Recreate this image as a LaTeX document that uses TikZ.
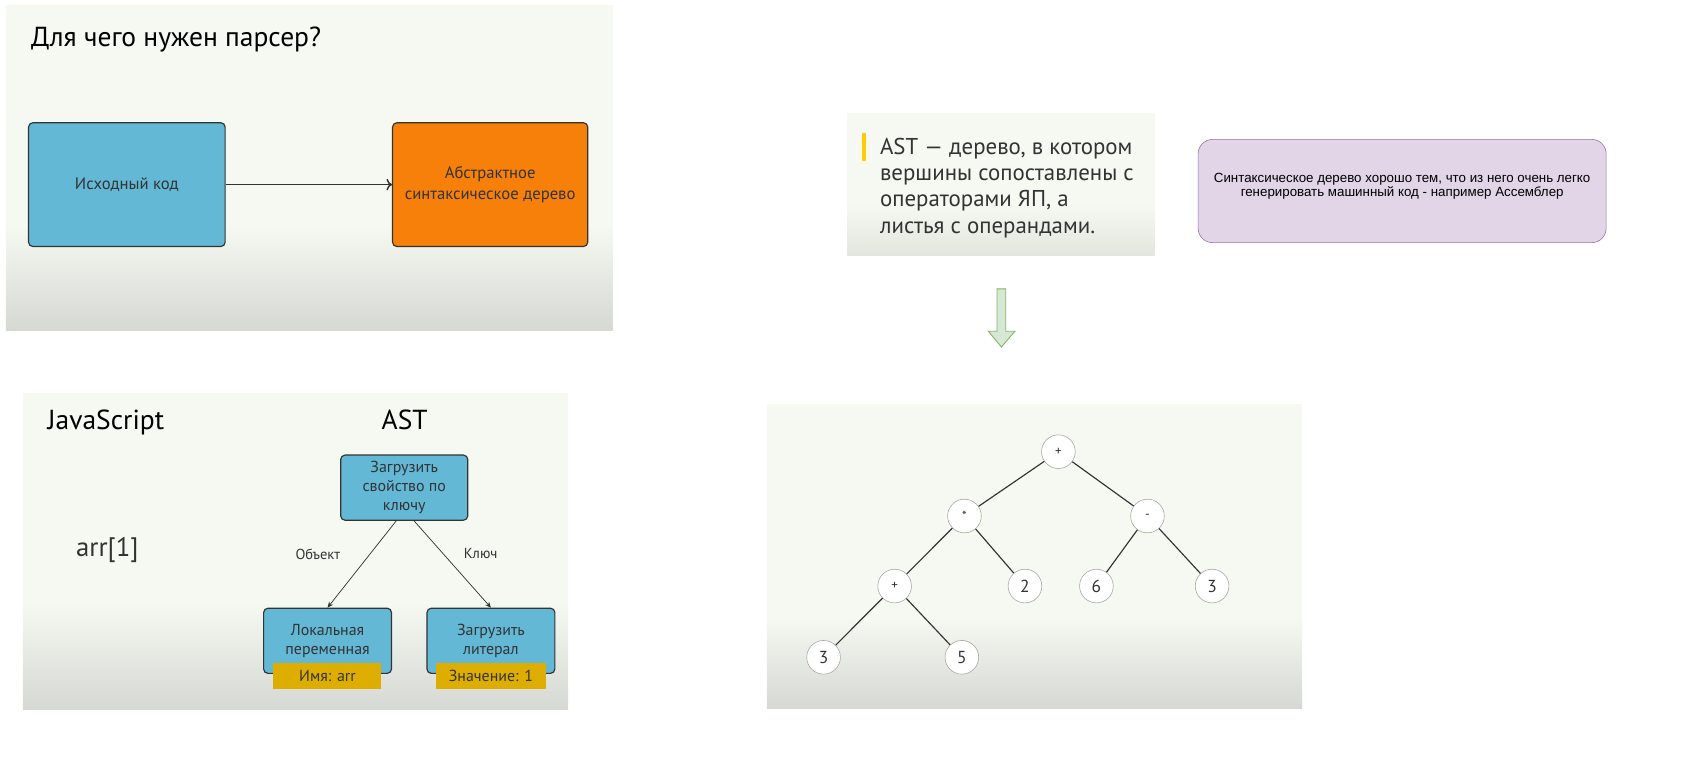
\documentclass[tikz,border=0pt]{standalone}
\usepackage{fontspec}
\setmainfont{PT Sans}
\newfontfamily\drawiofont{Liberation Sans}
\usetikzlibrary{arrows.meta}

\definecolor{slidetop}{HTML}{F6F9F2}
\definecolor{slidebot}{HTML}{D6D9D3}
\definecolor{slidebotl}{HTML}{E2E6DD}
\definecolor{boxblue}{HTML}{63B8D6}
\definecolor{boxorange}{HTML}{F6800A}
\definecolor{lblyellow}{HTML}{DDAE00}
\definecolor{barYellow}{HTML}{FFCC00}
\definecolor{notefill}{HTML}{E1D5E7}
\definecolor{notedraw}{HTML}{9673A6}
\definecolor{arrfill}{HTML}{D5E8D4}
\definecolor{arrdraw}{HTML}{82B366}
\definecolor{ink}{HTML}{333333}

% slide background: x1,y1,x2,y2,start of grey,bottom colour
\newcommand{\slidepanel}[6]{%
  \fill[slidetop] (#1,#2) rectangle (#3,#5);
  \shade[top color=slidetop, bottom color=#6] (#1,#5) rectangle (#3,#4);}

\begin{document}
\begin{tikzpicture}[x=0.75pt, y=-0.75pt,
  slidebox/.style={draw=ink, line width=0.8pt, rounded corners=3pt, text=ink, align=center, inner sep=0pt},
  heading/.style={anchor=base west, inner sep=0pt, text=black, font=\fontsize{19}{22}\selectfont},
  lbl/.style={fill=lblyellow, text=ink, inner sep=0pt, minimum height=18pt, font=\fontsize{11}{13}\selectfont},
  leaf/.style={circle, draw=black!35, fill=white, minimum size=23.25pt, inner sep=0pt, font=\fontsize{12}{14}\selectfont, text=ink},
  op/.style={leaf, font=\fontsize{9}{11}\selectfont},
  edge/.style={draw=ink, line width=0.8pt}]
\useasboundingbox (0,0) rectangle (1568,720);
\fill[white] (0,0) rectangle (1568,720);

% slide 1: what a parser is for
\slidepanel{5.5}{4.6}{564}{304}{208}{slidebot}
\node[heading] (title) at (28.4,42.4) {Для чего нужен парсер?};
\node[slidebox, fill=boxblue, minimum width=135.75pt, minimum height=85.5pt, font=\fontsize{11.5}{15}\selectfont] (src) at (116.8,170) {Исходный код};
\node[slidebox, fill=boxorange, minimum width=134.8pt, minimum height=85.5pt, font=\fontsize{11.5}{14.5}\selectfont] (ast) at (451.3,170) {Абстрактное\\синтаксическое дерево};
\draw[->, ink, line width=1pt] (src) -- (ast);

% slide 2: definition
\slidepanel{780}{104.3}{1063}{234.8}{188}{slidebotl}
\fill[barYellow] (794,122.8) rectangle (797.5,148.2);
\node[anchor=north west, align=left, inner sep=0pt, text=ink, font=\fontsize{15.8}{18.1}\selectfont] (def) at (810,127) {AST — дерево, в котором\\вершины сопоставлены с\\операторами ЯП, а\\листья с операндами.};

% note
\node[draw=notedraw, fill=notefill, rounded corners=10pt, minimum width=281.8pt, minimum height=71.3pt] (note) at (1291,175.9) {};
\node[align=center, inner sep=0pt, font=\drawiofont\fontsize{9.2}{9.9}\selectfont] (notetext) at (1291,171.5) {Синтаксическое дерево хорошо тем, что из него очень легко\\генерировать машинный код - например Ассемблер};

% block arrow down
\draw[draw=arrdraw, fill=arrfill, line width=0.6pt] (918,266) -- (926,266) -- (926,305) -- (934.5,305) -- (922,319.5) -- (910,305) -- (918,305) -- cycle;

% slide 3: arr[1]
\slidepanel{21}{362}{523}{653}{555}{slidebot}
\node[heading] (js) at (43.6,395.3) {JavaScript};
\node[heading] (asthead) at (351.2,395.3) {AST};
\node[heading, text=ink, font=\fontsize{18.5}{21}\selectfont] (code) at (69.9,512.5) {arr[1]};
\node[slidebox, fill=boxblue, minimum width=87.75pt, minimum height=45pt, font=\fontsize{11}{13}\selectfont] (load) at (372.2,449) {Загрузить\\свойство по\\ключу};
\node[slidebox, fill=boxblue, minimum width=88.3pt, minimum height=45pt, font=\fontsize{11}{13}\selectfont] (localvar) at (301.6,590) {Локальная\\переменная};
\node[slidebox, fill=boxblue, minimum width=88.3pt, minimum height=45pt, font=\fontsize{11}{13}\selectfont] (literal) at (452,590) {Загрузить\\литерал};
\node[lbl, minimum width=74.6pt] (namelbl) at (301.5,622.7) {Имя: arr};
\node[lbl, minimum width=75.5pt] (vallbl) at (452,622.7) {Значение: 1};
\draw[-{Stealth[length=4pt,width=3.5pt]}, ink, line width=0.5pt] ([xshift=-5.5pt]load.south) -- (localvar.north);
\draw[-{Stealth[length=4pt,width=3.5pt]}, ink, line width=0.5pt] ([xshift=6.75pt]load.south) -- (literal.north);
\node[text=ink, font=\fontsize{10}{12}\selectfont] (objlbl) at (292.6,510) {Объект};
\node[text=ink, font=\fontsize{10}{12}\selectfont] (keylbl) at (442.6,510) {Ключ};

% slide 4: expression tree
\slidepanel{706}{372}{1199}{652}{568}{slidebot}
\node[op] (plus) at (974.5,415.9) {+};
\node[op] (mul) at (888,475.1) {*};
\node[op] (minus) at (1056.5,475.1) {-};
\node[op] (plusb) at (823.7,539.6) {+};
\node[leaf] (two) at (943.7,539.6) {2};
\node[leaf] (six) at (1009.5,539.6) {6};
\node[leaf] (threer) at (1116,539.6) {3};
\node[leaf] (threel) at (758.3,605.2) {3};
\node[leaf] (five) at (885.6,605.2) {5};
\draw[edge] (plus) -- (mul);
\draw[edge] (plus) -- (minus);
\draw[edge] (mul) -- (plusb);
\draw[edge] (mul) -- (two);
\draw[edge] (minus) -- (six);
\draw[edge] (minus) -- (threer);
\draw[edge] (plusb) -- (threel);
\draw[edge] (plusb) -- (five);
\end{tikzpicture}
\end{document}
